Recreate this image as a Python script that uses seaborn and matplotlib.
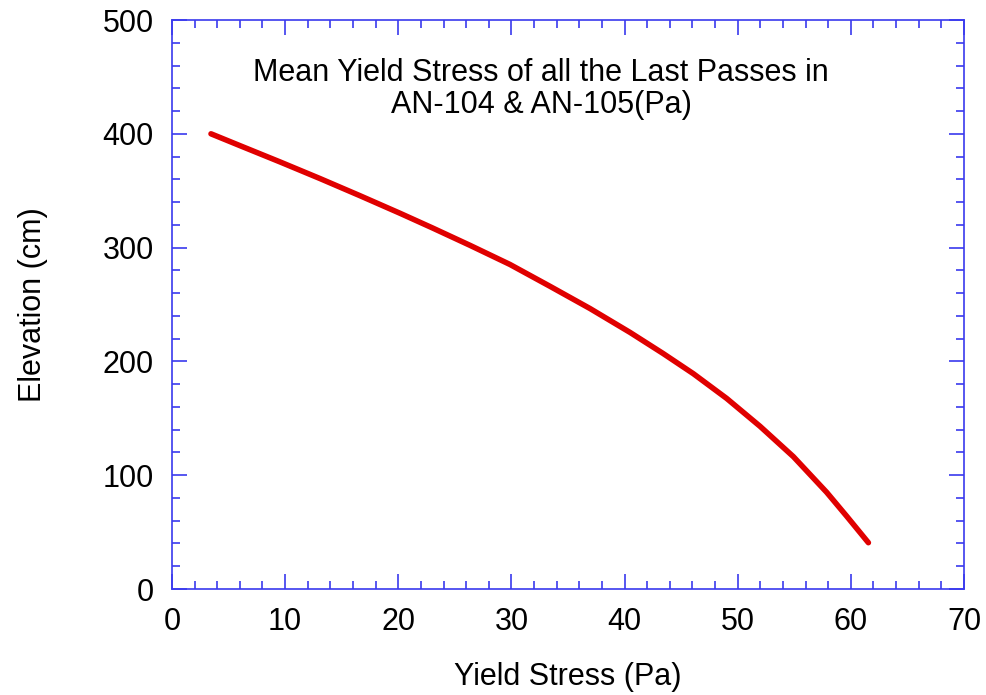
import matplotlib
matplotlib.use("Agg")
import matplotlib.pyplot as plt
from matplotlib.ticker import MultipleLocator
import seaborn as sns
import pandas as pd

# Mean yield stress profile (Pa) against elevation (cm)
yield_stress = [3.45, 6.01, 9.55, 13.08, 16.62, 20.15, 23.0, 26.34, 29.87,
                33.41, 36.94, 40.48, 43.4, 46.08, 49.02, 51.97, 54.92,
                57.86, 59.63, 61.55]
elevation = [400, 389.6, 375.3, 360.7, 345.6, 330.2, 317.4, 302.0, 285.2,
             266.0, 246.5, 225.5, 207.0, 189.2, 167.5, 143.0, 116.3,
             85.0, 64.0, 40.7]

title_text = "Mean Yield Stress of all the Last Passes in\nAN-104 & AN-105(Pa)"
x_label = "Yield Stress (Pa)"
y_label = "Elevation (cm)"

sns.set_theme(style="white")
plt.rcParams["font.family"] = ["Liberation Sans", "DejaVu Sans"]
plt.rcParams["text.color"] = "black"
plt.rcParams["axes.labelcolor"] = "black"

df = pd.DataFrame({"stress": yield_stress, "elev": elevation})

fig = plt.figure(figsize=(9.86, 6.95), dpi=100)
ax = fig.add_axes([0.1744, 0.1525, 0.8033, 0.8187])

sns.lineplot(data=df, x="stress", y="elev", sort=False, ax=ax,
             color="#e00000", linewidth=4.0, solid_capstyle="round",
             solid_joinstyle="round")

ax.set_xlim(0, 70)
ax.set_ylim(0, 500)
ax.xaxis.set_major_locator(MultipleLocator(10))
ax.xaxis.set_minor_locator(MultipleLocator(2))
ax.yaxis.set_major_locator(MultipleLocator(100))
ax.yaxis.set_minor_locator(MultipleLocator(20))

axis_blue = "#3a3aee"
for sp in ax.spines.values():
    sp.set_color(axis_blue)
    sp.set_linewidth(1.2)
    sp.set_visible(True)

ax.tick_params(which="both", direction="in", bottom=True, left=True,
               top=True, right=True, color=axis_blue, width=1.2,
               labelsize=22, labelcolor="black")
ax.tick_params(which="major", length=11)
ax.tick_params(which="minor", length=6)
ax.tick_params(axis="x", which="major", pad=13)
ax.tick_params(axis="y", which="major", pad=13)

ax.set_xlabel(x_label, fontsize=22, labelpad=18)
ax.set_ylabel(y_label, fontsize=22, labelpad=39)

ax.text(0.466, 0.879, title_text, transform=ax.transAxes, ha="center",
        va="center", fontsize=22, linespacing=1.1, color="black")

fig.savefig("out.png", dpi=100, facecolor="white")
